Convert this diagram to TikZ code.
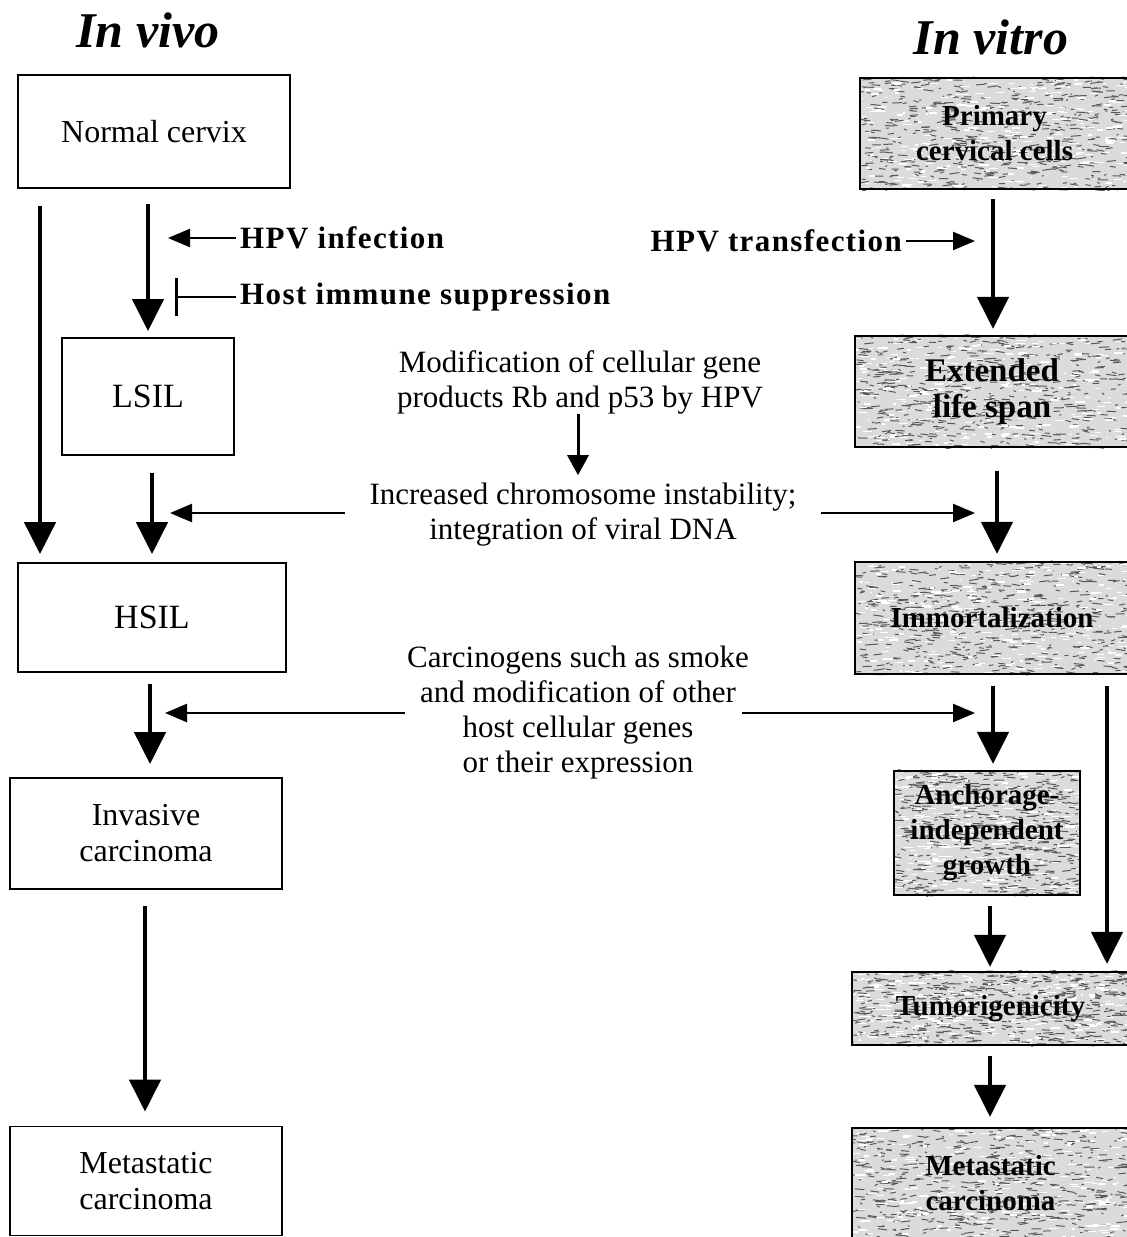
\documentclass[tikz,border=0pt]{standalone}
\usepackage{fontspec}
\setmainfont{Liberation Serif}
\newfontfamily\spacedfont[LetterSpace=4.5]{Liberation Serif}
\usetikzlibrary{arrows.meta,calc}
\pgfdeclarelayer{grain}
\pgfsetlayers{grain,main}

% speckled grey fill drawn behind a node
\newcommand\grainfill[1]{%
  \pgfpointanchor{#1}{south west}\pgfgetlastxy{\gxa}{\gya}%
  \pgfpointanchor{#1}{north east}\pgfgetlastxy{\gxb}{\gyb}%
  \begin{pgfonlayer}{grain}
    \fill[gray!28] (\gxa,\gya) rectangle (\gxb,\gyb);
    \begin{scope}
      \clip (\gxa,\gya) rectangle (\gxb,\gyb);
      \foreach \k in {1,...,540}{%
        \pgfmathsetmacro\gx{\gxa+rnd*(\gxb-\gxa)}%
        \pgfmathsetmacro\gy{\gya+rnd*(\gyb-\gya)}%
        \pgfmathsetmacro\gl{1.5+rnd*9}%
        \pgfmathsetmacro\gd{(rnd-0.5)*3}%
        \draw[black!65, line width=1pt] (\gx pt,\gy pt) -- ++(\gl pt,\gd pt);
      }
      \foreach \k in {1,...,280}{%
        \pgfmathsetmacro\gx{\gxa+rnd*(\gxb-\gxa)}%
        \pgfmathsetmacro\gy{\gya+rnd*(\gyb-\gya)}%
        \pgfmathsetmacro\gl{2+rnd*8}%
        \draw[white, line width=1.3pt] (\gx pt,\gy pt) -- ++(\gl pt,0pt);
      }
    \end{scope}
  \end{pgfonlayer}}

\tikzset{
  lbox/.style={draw, line width=1.8pt, inner sep=0pt, align=center,
    font=\fontsize{32}{36}\selectfont},
  rbox/.style={draw, line width=2.2pt, inner sep=0pt, align=center,
    font=\bfseries\fontsize{29}{35}\selectfont},
  midtext/.style={align=center, inner sep=0pt,
    font=\fontsize{31}{35}\selectfont},
  lbl/.style={inner ysep=0pt, inner xsep=4pt,
    font=\spacedfont\bfseries\fontsize{31}{34}\selectfont},
  title/.style={inner sep=0pt, font=\bfseries\itshape\fontsize{50}{54}\selectfont},
  bigarr/.style={line width=4.5pt, -{Triangle[length=32pt,width=31pt]}},
  sidearr/.style={line width=2.4pt, -{Triangle[length=22pt,width=18pt]}},
  smallarr/.style={line width=3pt, -{Triangle[length=20pt,width=21pt]}},
  blockarr/.style={line width=2.4pt, -{Bar[width=38pt,line width=3pt]}},
}

\begin{document}
\begin{tikzpicture}[x=1pt, y=-1pt]
\useasboundingbox (0,0) rectangle (1127,1237);
\pgfmathsetseed{11}

% column headings
\node[title] (tvivo)  at (148,30) {In vivo};
\node[title] (tvitro) at (991,37) {In vitro};

% in vivo stages
\node[lbox, minimum width=272pt, minimum height=113pt] (nc)   at (154,131.5)  {Normal cervix};
\node[lbox, minimum width=172pt, minimum height=117pt, font=\fontsize{34}{36}\selectfont] (lsil) at (148,396.5)  {LSIL};
\node[lbox, minimum width=268pt, minimum height=109pt, font=\fontsize{34}{36}\selectfont] (hsil) at (152,617.5)  {HSIL};
\node[lbox, minimum width=272pt, minimum height=111pt] (inv)  at (146,833.5)  {Invasive\\carcinoma};
\node[lbox, minimum width=272pt, minimum height=109pt] (metL) at (146,1181)   {Metastatic\\carcinoma};

% in vitro stages
\node[rbox, minimum width=269pt, minimum height=111pt] (prim) at (994.5,133.5) {Primary\\cervical cells};
\node[rbox, minimum width=274pt, minimum height=111pt, font=\bfseries\fontsize{33}{36}\selectfont] (ext) at (992,391.5) {Extended\\life span};
\node[rbox, minimum width=274pt, minimum height=112pt] (imm)  at (992,618)     {Immortalization};
\node[rbox, minimum width=186pt, minimum height=124pt] (anch) at (987,833)     {Anchorage-\\independent\\growth};
\node[rbox, minimum width=277pt, minimum height=73pt]  (tum)  at (990.5,1008.5){Tumorigenicity};
\node[rbox, minimum width=277pt, minimum height=110pt] (metR) at (990.5,1183)  {Metastatic\\carcinoma};
\foreach \b in {prim,ext,imm,anch,tum,metR}{\grainfill{\b}}

% influences written between the columns
\node[lbl, anchor=west] (hpvi) at (236,238) {HPV infection};
\node[lbl, anchor=west] (his)  at (236,297) {Host immune suppression};
\node[lbl, anchor=east] (hpvt) at (906,241) {HPV transfection};
\node[midtext] (mod)   at (580,382) {Modification of cellular gene\\products Rb and p53 by HPV};
\node[midtext, inner xsep=24pt] (chrom) at (583,515) {Increased chromosome instability;\\integration of viral DNA};
\node[midtext] (carc)  at (578,713) {Carcinogens such as smoke\\and modification of other\\host cellular genes\\or their expression};

% column positions of the vertical connectors
\coordinate (cA) at (40,0);
\coordinate (cB) at (148,0);
\coordinate (cC) at (152,0);
\coordinate (cD) at (150,0);
\coordinate (cE) at (145,0);
\coordinate (cF) at (993,0);
\coordinate (cG) at (997,0);
\coordinate (cH) at (1107,0);
\coordinate (cI) at (990,0);
\coordinate (cM) at (578,0);

% in vivo progression
\draw[bigarr, shorten <=17pt, shorten >=8pt]  (nc.south -| cA)   -- (hsil.north -| cA);
\draw[bigarr, shorten <=15pt, shorten >=6pt]  (nc.south -| cB)   -- (lsil.north -| cB);
\draw[bigarr, shorten <=17pt, shorten >=8pt]  (lsil.south -| cC) -- (hsil.north -| cC);
\draw[bigarr, shorten <=11pt, shorten >=13pt] (hsil.south -| cD) -- (inv.north -| cD);
\draw[bigarr, shorten <=16pt, shorten >=14pt] (inv.south -| cE)  -- (metL.north -| cE);

% in vitro progression
\draw[bigarr, shorten <=9pt,  shorten >=6pt]  (prim.south -| cF) -- (ext.north -| cF);
\draw[bigarr, shorten <=23pt, shorten >=7pt]  (ext.south -| cG)  -- (imm.north -| cG);
\draw[bigarr, shorten <=11pt, shorten >=6pt]  (imm.south -| cF)  -- (anch.north -| cF);
\draw[bigarr, shorten <=11pt, shorten >=7pt]  (imm.south -| cH)  -- (tum.north -| cH);
\draw[bigarr, shorten <=10pt, shorten >=4pt]  (anch.south -| cI) -- (tum.north -| cI);
\draw[bigarr, shorten <=10pt, shorten >=10pt] (tum.south -| cI)  -- (metR.north -| cI);

% side influences
\coordinate (hpviTip) at (168,238);
\coordinate (hisBar)  at (175,297);
\coordinate (hpvtTip) at (975,241);
\draw[sidearr]  (hpvi.west) -- (hpviTip);
\draw[blockarr] (his.west)  -- (hisBar);
\draw[sidearr]  (hpvt.east) -- (hpvtTip);

\draw[smallarr, shorten <=0pt, shorten >=8pt] (mod.south -| cM) -- (chrom.north -| cM);

\coordinate (chromL) at (170,513);
\coordinate (chromR) at (975,513);
\draw[sidearr] (chrom.west |- chromL) -- (chromL);
\draw[sidearr] (chrom.east |- chromR) -- (chromR);

\coordinate (carcL) at (165,713);
\coordinate (carcR) at (975,713);
\draw[sidearr] ($(carc.center)+(-173,0)$) -- (carcL);
\draw[sidearr] ($(carc.center)+(164,0)$)  -- (carcR);
\end{tikzpicture}
\end{document}
